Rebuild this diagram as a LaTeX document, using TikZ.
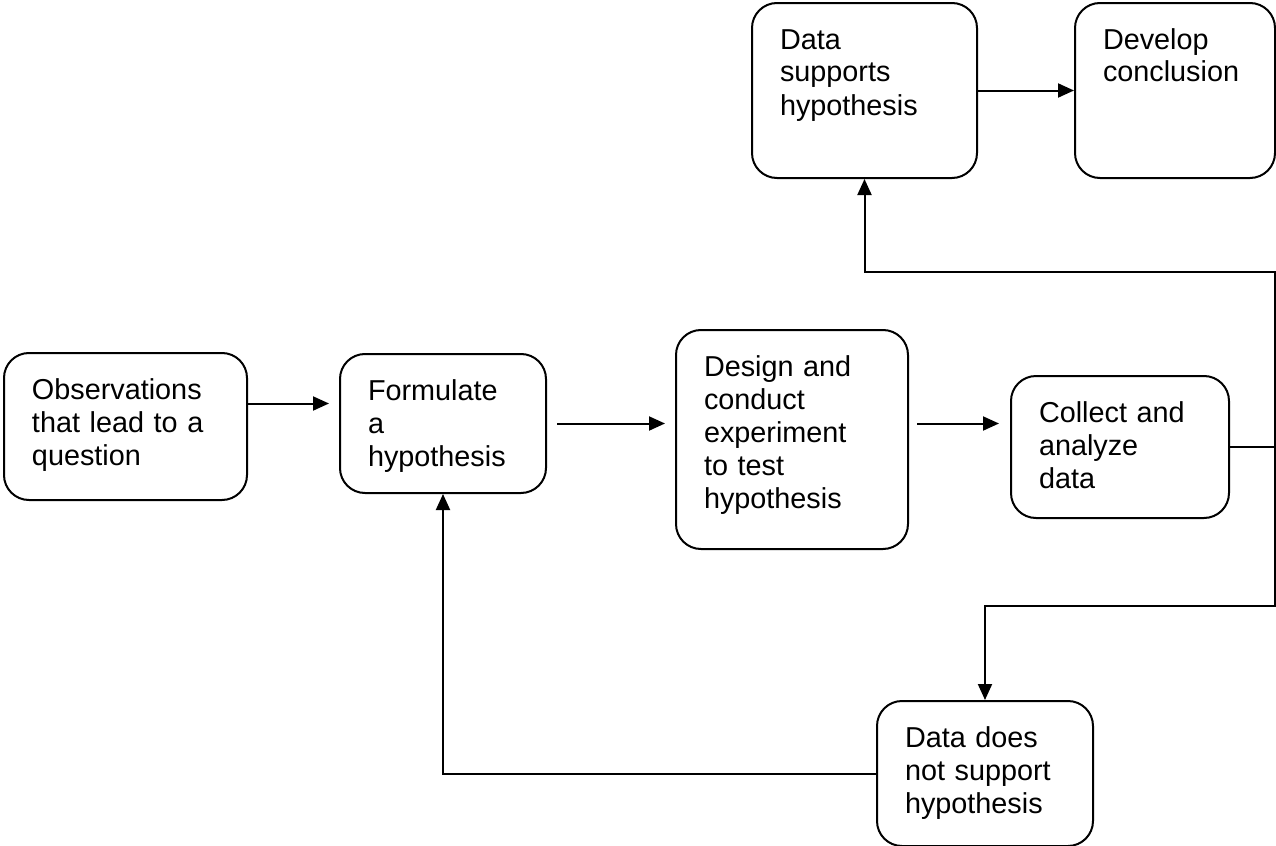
\documentclass[tikz,border=0pt]{standalone}
\usepackage{fontspec}
\setmainfont{Liberation Sans}
\usetikzlibrary{arrows.meta,calc}

\begin{document}
\begin{tikzpicture}[
                  x=0.5pt,y=-0.5pt,
                  font=\fontsize{14.4pt}{16.5pt}\selectfont,
                  stepbox/.style={draw,line width=1pt,rounded corners=12.5pt,anchor=north west,align=left,inner xsep=14pt,inner ysep=0pt,text height=23pt},
                  arr/.style={-{Triangle[length=8pt,width=7pt]},line width=1pt}
                ]
                \useasboundingbox (0,0) rectangle (1276,846);
                \node[stepbox,text width=93.5pt,text depth=50.5pt] (obs) at (3,352) {Observations\\that lead to a\\question};
                \node[stepbox,text width=75pt,text depth=46.5pt] (formulate) at (339,353) {Formulate\\a\\hypothesis};
                \node[stepbox,text width=88pt,text depth=86.5pt] (design) at (675,329) {Design and\\conduct\\experiment\\to test\\hypothesis};
                \node[stepbox,text width=81pt,text depth=48pt] (collect) at (1010,375) {Collect and\\analyze\\data};
                \node[stepbox,text width=84.5pt,text depth=64.5pt] (supports) at (751,2) {Data\\supports\\hypothesis};
                \node[stepbox,text width=72pt,text depth=64.5pt] (develop) at (1074,2) {Develop\\conclusion};
                \node[stepbox,text width=80pt,text depth=49.5pt] (nosupp) at (876,700) {Data does\\not support\\hypothesis};

                \coordinate (obsout) at ($(obs.east)+(0,-23)$);
                \coordinate (bustop) at (1275,272);
                \coordinate (buslow) at (1275,606);
                \coordinate (bus) at (collect.east -| bustop);

                \draw[arr,shorten >=5pt] (obsout) -- (obsout -| formulate.west);
                \draw[arr,shorten <=5pt,shorten >=5pt] (formulate.east) -- (formulate.east -| design.west);
                \draw[arr,shorten <=4pt,shorten >=5.5pt] (formulate.east -| design.east) -- (formulate.east -| collect.west);
                \draw[arr] (supports.east) -- (develop.west);
                \draw[line width=1pt] (collect.east) -- (bus);
                \draw[arr] (bus) -- (bustop) -| (supports.south);
                \draw[arr] (bus) -- (buslow) -| (nosupp.north);
                \draw[arr] (nosupp.west) -| (formulate.south);
                \end{tikzpicture}
\end{document}
